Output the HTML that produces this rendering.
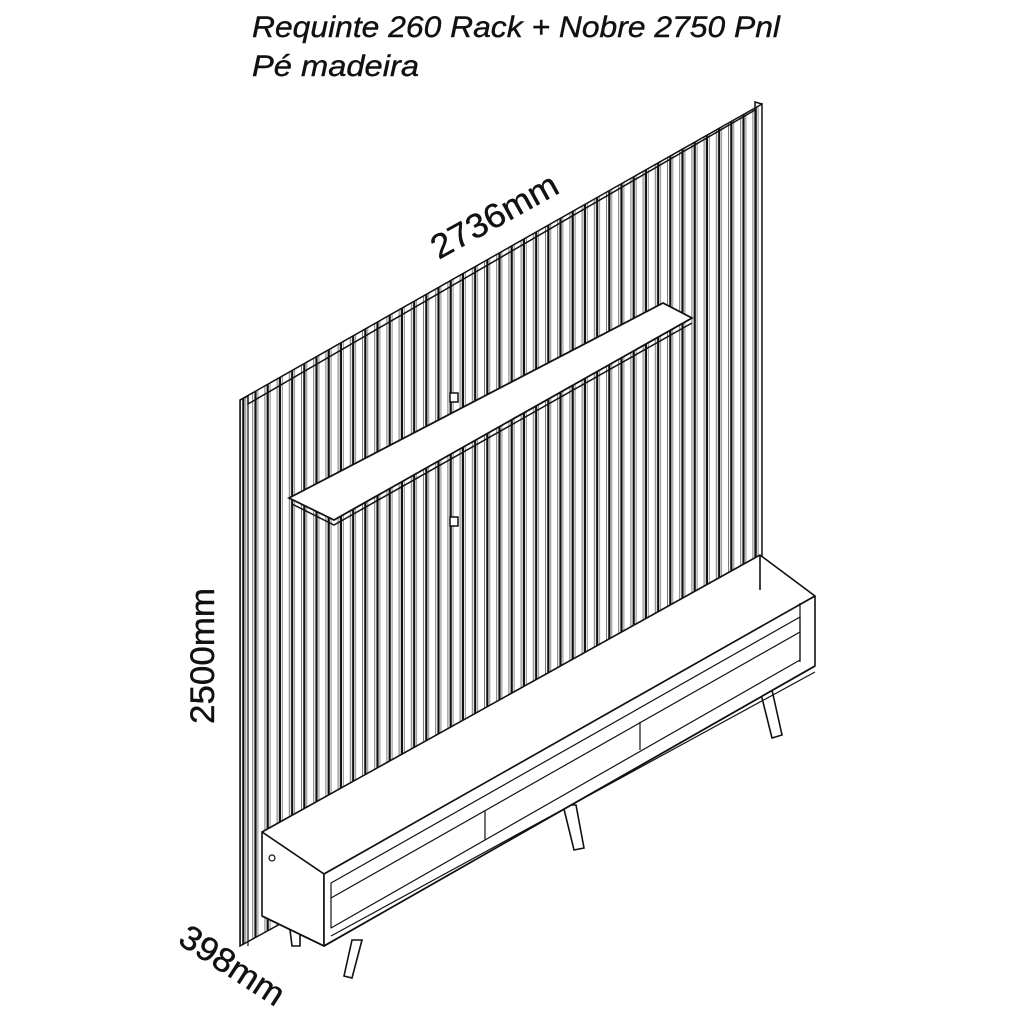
<!DOCTYPE html>
<html><head><meta charset="utf-8"><style>
html,body{margin:0;padding:0;background:#fff;}
svg{display:block}
</style></head><body>
<svg width="1024" height="1024" viewBox="0 0 1024 1024" xmlns="http://www.w3.org/2000/svg">
<defs>
<pattern id="sl" x="240" y="0" width="12.2" height="20" patternUnits="userSpaceOnUse">
<rect x="0" y="0" width="1" height="20" fill="#777"/>
<rect x="2.2" y="0" width="2.2" height="20" fill="#111"/>
<rect x="5.2" y="0" width="1" height="20" fill="#888"/>
</pattern>
</defs>
<rect width="1024" height="1024" fill="#fff"/>
<text x="252" y="37" textLength="528" lengthAdjust="spacingAndGlyphs" font-family="Liberation Sans, sans-serif" font-style="italic" font-size="30" stroke="#111" stroke-width="0.4" fill="#111">Requinte 260 Rack + Nobre 2750 Pnl</text>
<text x="252" y="76" textLength="167" lengthAdjust="spacingAndGlyphs" font-family="Liberation Sans, sans-serif" font-style="italic" font-size="30" stroke="#111" stroke-width="0.4" fill="#111">Pé madeira</text>

<polygon points="240,400 762,104 762,660 240,946" fill="url(#sl)" stroke="#111" stroke-width="1.5"/>
<polyline points="240,400 248,396 248,404 755,110 755,102 762,104" fill="none" stroke="#111" stroke-width="1.5"/>
<line x1="248" y1="404" x2="248" y2="946" stroke="#111" stroke-width="1.2"/>
<line x1="755" y1="110" x2="755" y2="600" stroke="#111" stroke-width="1.2"/>

<polygon points="289,498 663,303 692,318 334,520" fill="#fff" stroke="#111" stroke-width="1.8"/>
<polyline points="292,504 334,525 692,323" fill="none" stroke="#111" stroke-width="1.5"/>
<rect x="450" y="393" width="8" height="9" fill="#fff" stroke="#111" stroke-width="1.5"/>
<rect x="450" y="517" width="8" height="9" fill="#fff" stroke="#111" stroke-width="1.5"/>

<text transform="translate(500,226) rotate(-29)" text-anchor="middle" textLength="140" lengthAdjust="spacingAndGlyphs" font-family="Liberation Sans, sans-serif" font-size="34" stroke="#111" stroke-width="0.4" fill="#111">2736mm</text>
<text transform="translate(214,656) rotate(-90)" text-anchor="middle" textLength="136" lengthAdjust="spacingAndGlyphs" font-family="Liberation Sans, sans-serif" font-size="34" stroke="#111" stroke-width="0.4" fill="#111">2500mm</text>
<text transform="translate(226,975) rotate(33)" text-anchor="middle" textLength="118" lengthAdjust="spacingAndGlyphs" font-family="Liberation Sans, sans-serif" font-size="34" stroke="#111" stroke-width="0.4" fill="#111">398mm</text>

<g fill="#fff" stroke="#111" stroke-width="1.6">
<polygon points="352,940 362,940 352,978 344,976"/>
<polygon points="760,690 772,690 782,735 772,738"/>
<polygon points="563,805 576,805 584,848 574,850"/>
<polygon points="290,930 300,930 300,946 292,946"/>
</g>
<g stroke="#111" stroke-width="1.6" stroke-linejoin="round">
<polygon points="262,832 760,555 815,596 324,874" fill="#fff"/>
<polygon points="262,832 324,874 324,946 262,916" fill="#fff"/>
<polygon points="324,874 815,596 815,666 324,946" fill="#fff"/>
<polyline points="760,555 760,590" fill="none"/>
<polyline points="800,603 800,662" fill="none" stroke-width="1.2"/>
<polygon points="331,883 800,617 800,660 331,928" fill="none" stroke-width="1.2"/>
<line x1="331" y1="898" x2="800" y2="632" stroke-width="1.2"/>
<line x1="331" y1="936" x2="815" y2="672" stroke-width="1.2"/>
<line x1="485" y1="811" x2="485" y2="840" stroke-width="1.2"/>
<line x1="640" y1="722" x2="640" y2="750" stroke-width="1.2"/>
<line x1="262" y1="916" x2="324" y2="946" />
<line x1="324" y1="946" x2="815" y2="666"/>
</g>
<circle cx="272" cy="858" r="3" fill="#fff" stroke="#111" stroke-width="1.2"/>
</svg>
</body></html>
